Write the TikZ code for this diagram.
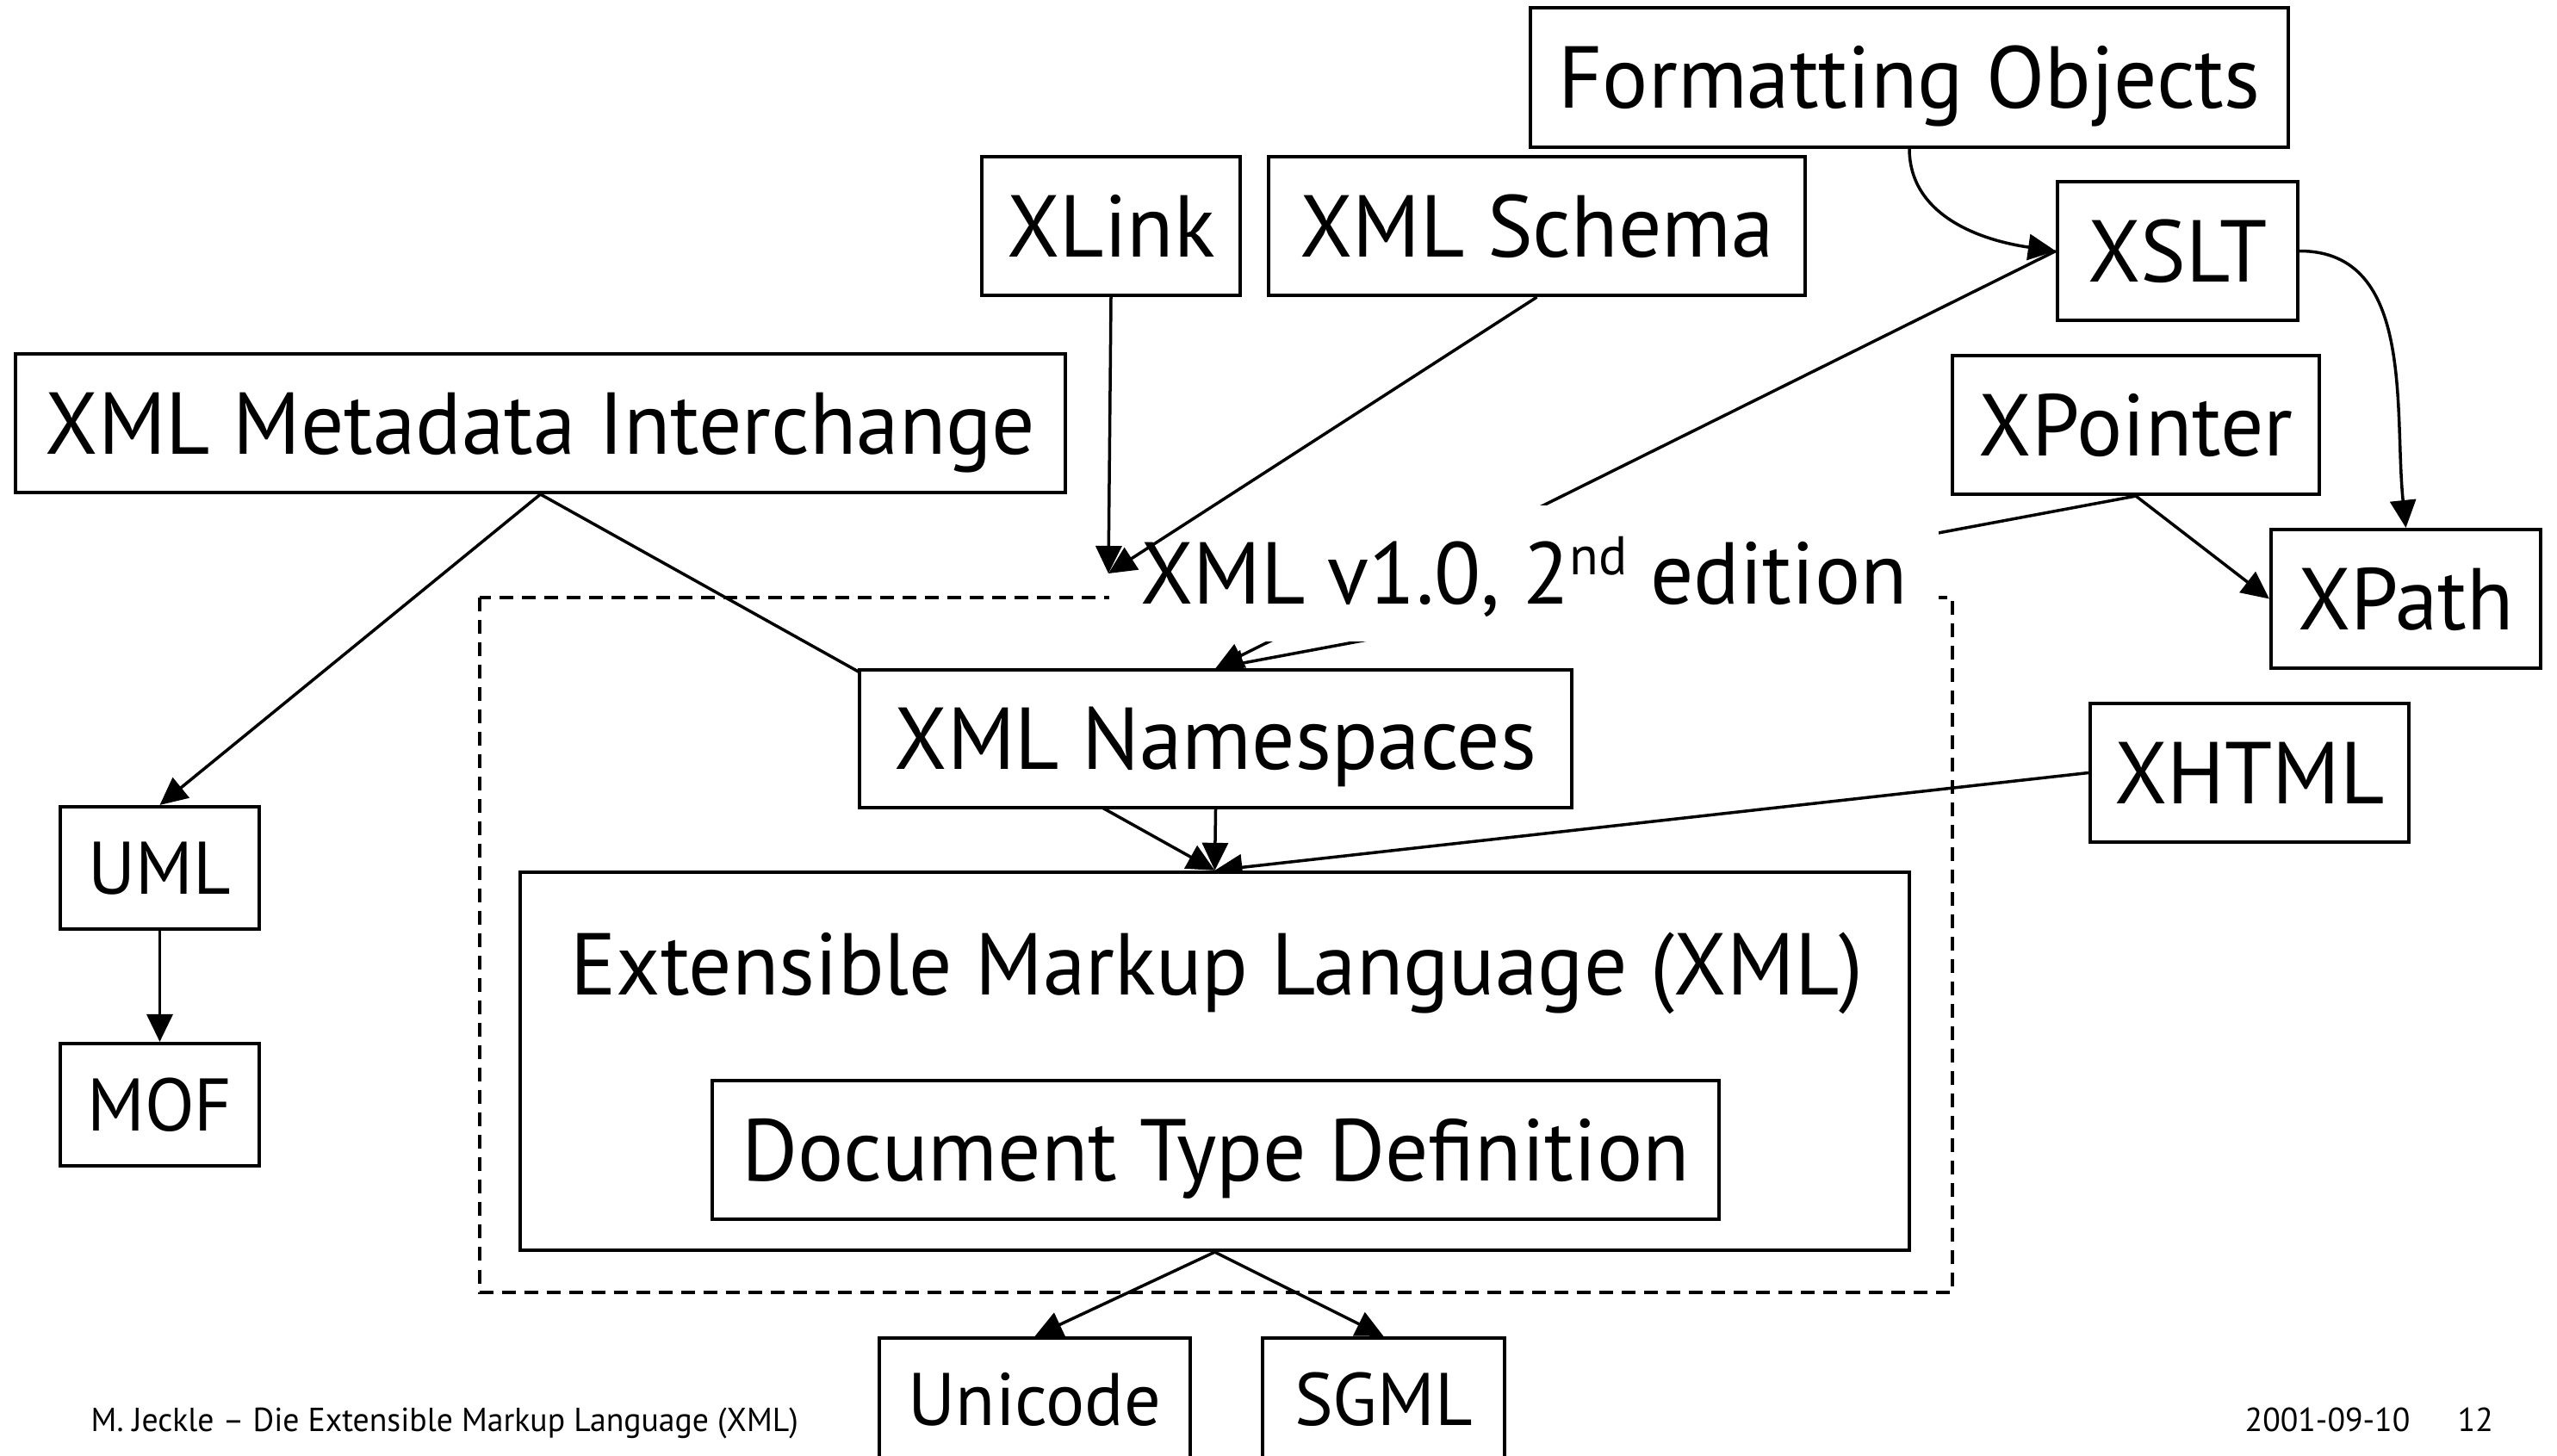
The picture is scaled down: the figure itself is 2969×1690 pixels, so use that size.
\documentclass[tikz,border=0pt]{standalone}
\usepackage{fontspec}
\setmainfont{PT Sans}[FakeStretch=0.975]
\usetikzlibrary{arrows.meta}
\pgfdeclarelayer{back}
\pgfsetlayers{back,main}

\begin{document}
\begin{tikzpicture}[x=0.01cm,y=0.01cm,
  bigfont/.style={font=\fontsize{29}{34}\selectfont},
  box/.style={draw, line width=0.04cm, fill=white, inner sep=0pt,
    minimum height=1.61cm, text height=0.715cm, text depth=0pt, bigfont},
  smallbox/.style={box, minimum height=1.42cm, text height=0.61cm,
    font=\fontsize{24.6}{30}\selectfont},
  conn/.style={line width=0.035cm, -{Triangle[length=0.32cm,width=0.30cm]}},
  frame/.style={line width=0.035cm, dash pattern=on 0.16cm off 0.10cm},
  footer/.style={font=\fontsize{11}{13}\selectfont, inner sep=0pt, anchor=base west}]

\useasboundingbox (0,0) rectangle (2969,-1690);

% boxes
\node[box, minimum width=8.80cm] (fo) at (2217,-90) {Formatting Objects};
\node[box, minimum width=3.00cm] (xlink) at (1290,-262.5) {XLink};
\node[box, minimum width=6.23cm] (schema) at (1784.5,-262.5) {XML Schema};
\node[box, minimum width=2.79cm] (xslt) at (2528.5,-291.5) {XSLT};
\node[box, minimum width=12.19cm] (xmi) at (627.5,-491.5) {XML Metadata Interchange};
\node[box, minimum width=4.26cm] (xpointer) at (2480,-493.5) {XPointer};
\node[box, minimum width=3.13cm] (xpath) at (2793.5,-695.5) {XPath};
\node[box, minimum width=8.27cm, minimum height=1.60cm] (ns) at (1411.5,-858) {XML Namespaces};
\node[box, minimum width=3.70cm] (xhtml) at (2612,-897.5) {XHTML};
\node[smallbox, minimum width=2.31cm] (uml) at (185.5,-1008) {UML};
\node[smallbox, minimum width=2.31cm] (mof) at (185.5,-1283) {MOF};
\node[box, minimum width=16.13cm, minimum height=4.39cm] (xml) at (1410.5,-1232.5) {};
\node[bigfont, inner sep=0pt, anchor=base] (xmltitle) at (1413,-1155) {Extensible Markup Language (XML)};
\node[box, minimum width=11.69cm] (dtd) at (1411.5,-1335.5) {Document Type Definition};
\node[smallbox, minimum width=3.61cm] (unicode) at (1201.5,-1625) {Unicode};
\node[smallbox, minimum width=2.81cm] (sgml) at (1606.5,-1625) {SGML};

% title of the dashed group, on a white ground
\node[fill=white, inner sep=0pt, minimum width=9.63cm, minimum height=1.57cm,
  text height=0.715cm, text depth=0pt, bigfont] (edition) at (1769.5,-666)
  {XML v1.0, 2\raisebox{0.34cm}{\fontsize{18}{18}\selectfont nd} edition};

% arrows into the group title, drawn above its white ground
\draw[conn] (xlink.south) -- (edition.west);
\draw[conn] (schema.south) -- (edition.west);

% footer
\node[footer] (author) at (105,-1662) {M. Jeckle – Die Extensible Markup Language (XML)};
\node[footer] (date) at (2606,-1662) {2001-09-10};
\node[footer] (page) at (2853,-1662) {12};

\begin{pgfonlayer}{back}
  \draw[frame] (557,-694) rectangle (2267,-1501);
  \draw[conn] (fo.south) to[out=-90,in=172] (xslt.west);
  \draw[conn] (xslt.east) to[out=0,in=96] (xpath.north);
  \draw[conn] (xslt.west) -- (ns.north);
  \draw[conn] (xpointer.south) -- (ns.north);
  \draw[conn] (xpointer.south) -- (xpath.west);
  \draw[conn] (xmi.south) -- (uml.north);
  \draw[conn] (xmi.south) -- (xml.north);
  \draw[conn] (ns.south) -- (xml.north);
  \draw[conn] (xhtml.west) -- (xml.north);
  \draw[conn] (uml.south) -- (mof.north);
  \draw[conn] (xml.south) -- (unicode.north);
  \draw[conn] (xml.south) -- (sgml.north);
\end{pgfonlayer}
\end{tikzpicture}
\end{document}
